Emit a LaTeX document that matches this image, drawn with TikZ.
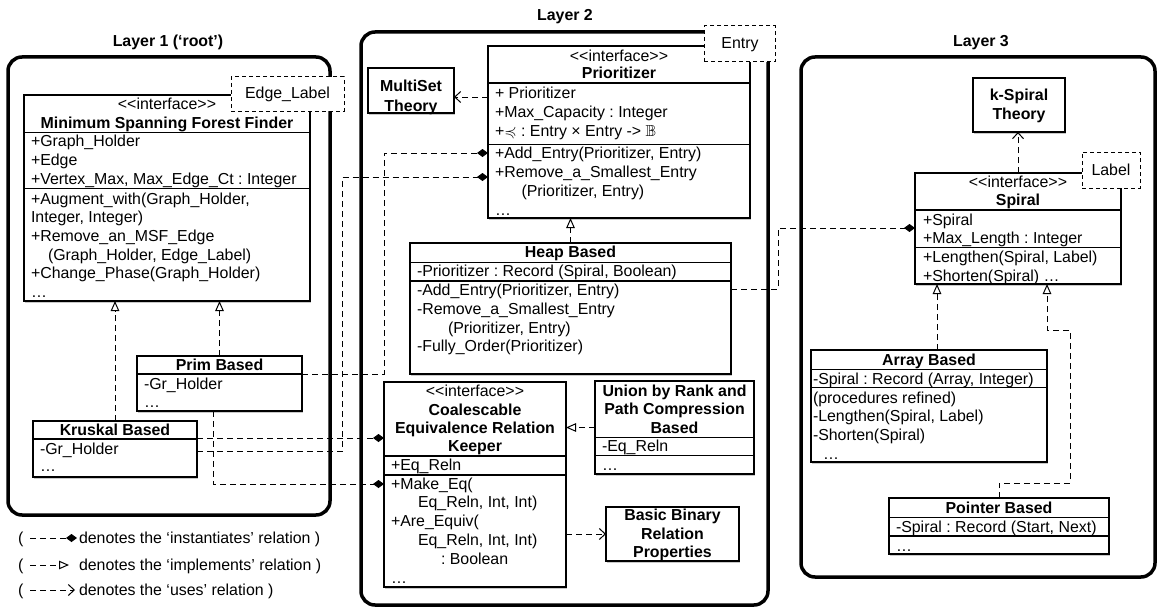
\documentclass[tikz,border=0pt]{standalone}
\usepackage{fontspec}
\usepackage{amssymb}
\usetikzlibrary{arrows.meta,shadows,fit,calc}
\newfontfamily\umlfont{Liberation Sans}
\frenchspacing

% stacked text rows: #1 = row pitch (pt), #2 = rows separated by \\
\newcommand{\rowsl}[2]{{\fontsize{15.9pt}{#1pt}\selectfont\begin{tabular}[t]{@{}l@{}}#2\end{tabular}}}
\newcommand{\rowsc}[2]{{\fontsize{15.9pt}{#1pt}\selectfont\begin{tabular}[t]{@{}c@{}}#2\end{tabular}}}
% compartment separator inside a class box at height #2
\newcommand{\compsep}[2]{\draw[sepline] (#1.west |- 0,#2) -- (#1.east |- 0,#2);}

\tikzset{
  every node/.style={font=\umlfont\fontsize{15.9pt}{19pt}\selectfont, inner sep=0pt, outer sep=0pt},
  layer/.style={draw, line width=3.5pt, rounded corners=14pt},
  classbox/.style={draw, line width=1.1pt, fill=white,
    drop shadow={shadow xshift=1.2pt, shadow yshift=-1.6pt, opacity=0.3, fill=black!70}},
  tagbox/.style={draw, line width=1pt, dash pattern=on 4pt off 3pt, fill=white},
  sepline/.style={line width=1.1pt},
  left rows/.style={anchor=base west},
  mid rows/.style={anchor=base},
  conn/.style={line width=1pt, dash pattern=on 6pt off 4pt},
  inst/.style={conn, -{Diamond[length=11pt,width=8pt]}},
  impl/.style={conn, -{Triangle[open,length=10pt,width=8.5pt,line width=1pt]}},
  uses/.style={conn, -{Straight Barb[length=6pt,width=11pt,line width=1pt]}},
}

\begin{document}
\begin{tikzpicture}[x=1pt,y=-1pt]
\useasboundingbox (0,0) rectangle (1157,610);

% ---------- layers ----------
\node[layer, fit={(8,57) (330,515)}] (layerA) {};
\node[layer, fit={(361,32) (768,605)}] (layerB) {};
\node[layer, fit={(801,57) (1155,577)}] (layerC) {};
\node[anchor=base] (titleA) at (168,47) {\bfseries Layer 1 (‘root’)};
\node[anchor=base] (titleB) at (565,21) {\bfseries Layer 2};
\node[anchor=base] (titleC) at (981,47) {\bfseries Layer 3};

% ---------- layer 1 ----------
\node[classbox, fit={(24,95) (310,301)}] (msf) {};
\compsep{msf}{132.7}
\compsep{msf}{188.3}
\node[mid rows] (msfHead) at (167,110) {\rowsc{18.2}{<<interface>>\\\bfseries Minimum Spanning Forest Finder}};
\node[left rows] (msfAttr) at (31,146.7) {\rowsl{18.8}{+Graph\_Holder\\+Edge\\+Vertex\_Max, Max\_Edge\_Ct : Integer}};
\node[left rows] (msfOps) at (31,204.3) {\rowsl{18.6}{+Augment\_with(Graph\_Holder,\\Integer, Integer)\\+Remove\_an\_MSF\_Edge\\\hspace*{17pt}(Graph\_Holder, Edge\_Label)\\+Change\_Phase(Graph\_Holder)\\…}};
\node[tagbox, fit={(231,77) (344,111)}] (edgeTag) {};
\node[anchor=base] (edgeTagText) at (287.5,98.8) {Edge\_Label};

\node[classbox, fit={(137,356) (302,411)}] (prim) {};
\compsep{prim}{374}
\node[mid rows] (primHead) at (219.5,370) {\bfseries Prim Based};
\node[left rows] (primAttr) at (144,389) {\rowsl{18}{-Gr\_Holder\\…}};

\node[classbox, fit={(33,421) (197,477)}] (kruskal) {};
\compsep{kruskal}{439}
\node[mid rows] (kruskalHead) at (115,435) {\bfseries Kruskal Based};
\node[left rows] (kruskalAttr) at (40,454) {\rowsl{17.7}{-Gr\_Holder\\…}};

% ---------- layer 2 ----------
\node[classbox, fit={(488,46) (750,218)}] (prio) {};
\compsep{prio}{83}
\compsep{prio}{144.3}
\node[mid rows] (prioHead) at (619,61.7) {\rowsc{17.3}{<<interface>>\\\bfseries Prioritizer}};
\node[left rows] (prioAttr) at (495,98.3) {\rowsl{19}{+ Prioritizer\\+Max\_Capacity : Integer\\+$\preccurlyeq$ : Entry × Entry -> $\mathbb{B}$}};
\node[left rows] (prioOps) at (495,158.3) {\rowsl{19.2}{+Add\_Entry(Prioritizer, Entry)\\+Remove\_a\_Smallest\_Entry\\\hspace*{26.5pt}(Prioritizer, Entry)\\…}};
\node[tagbox, fit={(704,26) (775,62)}] (entryTag) {};
\node[anchor=base] (entryTagText) at (740,48.5) {Entry};

\node[classbox, fit={(368,68) (454,113)}] (multiset) {};
\node[mid rows] (multisetText) at (411,91.7) {\bfseries\rowsc{19.3}{MultiSet\\Theory}};

\node[classbox, fit={(410,243) (731,374)}] (heap) {};
\compsep{heap}{262.3}
\compsep{heap}{281}
\node[mid rows] (heapHead) at (570.5,257.7) {\bfseries Heap Based};
\node[left rows] (heapAttr) at (417,276.7) {-Prioritizer : Record (Spiral, Boolean)};
\node[left rows] (heapOps) at (417,295.7) {\rowsl{18.7}{-Add\_Entry(Prioritizer, Entry)\\-Remove\_a\_Smallest\_Entry\\\hspace*{31pt}(Prioritizer, Entry)\\-Fully\_Order(Prioritizer)}};

\node[classbox, fit={(384,382) (566,587)}] (coal) {};
\compsep{coal}{456}
\compsep{coal}{475}
\node[mid rows] (coalHead) at (475,396.7) {\rowsc{18.3}{<<interface>>\\\bfseries Coalescable\\\bfseries Equivalence Relation\\\bfseries Keeper}};
\node[left rows] (coalAttr) at (391,470) {+Eq\_Reln};
\node[left rows] (coalOps) at (391,489) {\rowsl{18.8}{+Make\_Eq(\\\hspace*{27pt}Eq\_Reln, Int, Int)\\+Are\_Equiv(\\\hspace*{27pt}Eq\_Reln, Int, Int)\\\hspace*{50pt}: Boolean\\…}};

\node[classbox, fit={(595,381) (754,474)}] (union) {};
\compsep{union}{437.3}
\compsep{union}{455.7}
\node[mid rows] (unionHead) at (674.5,396) {\bfseries\rowsc{18.7}{Union by Rank and\\Path Compression\\Based}};
\node[left rows] (unionAttr) at (602,451.7) {-Eq\_Reln};
\node[left rows] (unionOps) at (602,470) {…};

\node[classbox, fit={(606,507) (739,561)}] (basic) {};
\node[mid rows] (basicText) at (672.5,520.7) {\bfseries\rowsc{18.5}{Basic Binary\\Relation\\Properties}};

% ---------- layer 3 ----------
\node[classbox, fit={(973,78) (1065,132)}] (kspiral) {};
\node[mid rows] (kspiralText) at (1019,100) {\bfseries\rowsc{19.3}{k-Spiral\\Theory}};

\node[classbox, fit={(915,173) (1121,284)}] (spiral) {};
\compsep{spiral}{210}
\compsep{spiral}{247.3}
\node[mid rows] (spiralHead) at (1018,187.7) {\rowsc{18}{<<interface>>\\\bfseries Spiral}};
\node[left rows] (spiralAttr) at (923,225) {\rowsl{18.3}{+Spiral\\+Max\_Length : Integer}};
\node[left rows] (spiralOps) at (923,262.3) {\rowsl{18.7}{+Lengthen(Spiral, Label)\\+Shorten(Spiral) …}};
\node[tagbox, fit={(1082,152) (1140,188)}] (labelTag) {};
\node[anchor=base] (labelTagText) at (1111,175.5) {Label};

\node[classbox, fit={(811,350) (1047,462)}] (array) {};
\compsep{array}{369.3}
\compsep{array}{387.3}
\node[mid rows] (arrayHead) at (929,365) {\bfseries Array Based};
\node[left rows] (arrayAttr) at (813,384.3) {-Spiral : Record (Array, Integer)};
\node[left rows] (arrayOps) at (813,403.3) {\rowsl{18.6}{(procedures refined)\\-Lengthen(Spiral, Label)\\-Shorten(Spiral)\\\hspace*{10pt}…}};

\node[classbox, fit={(889,498) (1109,554)}] (pointer) {};
\compsep{pointer}{517.7}
\compsep{pointer}{536}
\node[mid rows] (pointerHead) at (999,513.3) {\bfseries Pointer Based};
\node[left rows] (pointerAttr) at (896,532.3) {-Spiral : Record (Start, Next)};
\node[left rows] (pointerOps) at (896,551) {…};

% ---------- instantiates ----------
\coordinate (primE) at ($(prim.north east)+(0,18)$);
\coordinate (prioA) at ($(prio.north west)+(0,107)$);
\draw[inst] (primE) -| ([xshift=-104pt]prioA) -- (prioA);

\coordinate (kruE1) at ($(kruskal.north east)+(0,17)$);
\draw[inst] (kruE1) -- (kruE1 -| coal.west);

\coordinate (kruE2) at ($(kruskal.north east)+(0,30.5)$);
\coordinate (prioB) at ($(prio.north west)+(0,131)$);
\draw[inst] (kruE2) -| ([xshift=-146pt]prioB) -- (prioB);

\coordinate (primS) at ([xshift=-6.5pt]prim.south);
\coordinate (coalB) at ($(coal.north west)+(0,102)$);
\draw[inst] (primS) |- (coalB);

\coordinate (heapE) at ($(heap.north east)+(0,46)$);
\coordinate (spiA) at ($(spiral.north west)+(0,55)$);
\draw[inst] (heapE) -| ([xshift=-137pt]spiA) -- (spiA);

% ---------- implements ----------
\draw[impl] (kruskal.north) -- (kruskal.north |- msf.south);
\draw[impl] (prim.north) -- (prim.north |- msf.south);
\draw[impl] (heap.north) -- (heap.north |- prio.south);
\draw[impl] (union.west) -- (union.west -| coal.east);
\coordinate (arrT) at ([xshift=8pt]array.north);
\draw[impl] (arrT) -- (arrT |- spiral.south);
\coordinate (spiB) at ([xshift=29pt]spiral.south);
\coordinate (ptrBend) at ($(pointer.north)+(71,-15)$);
\coordinate (spiBend) at ($(spiB)+(0,46)$);
\draw[impl] (pointer.north) |- (ptrBend) |- (spiBend) -- (spiB);

% ---------- uses ----------
\coordinate (prioU) at ($(prio.north west)+(0,51)$);
\draw[uses] (prioU) -- (prioU -| multiset.east);
\draw[uses] (spiral.north) -- (spiral.north |- kspiral.south);
\draw[uses] (coal.east |- basic.west) -- (basic.west);

% ---------- legend ----------
\node[anchor=base west] (legP1) at (18,543.3) {(};
\coordinate (lgA1) at (30,538); \coordinate (lgA2) at (77,538);
\draw[inst] (lgA1) -- (lgA2);
\node[anchor=base west] (legT1) at (79,543.3) {denotes the ‘instantiates’ relation )};

\node[anchor=base west] (legP2) at (18,570) {(};
\coordinate (lgB1) at (30,565); \coordinate (lgB2) at (69,565);
\draw[impl] (lgB1) -- (lgB2);
\node[anchor=base west] (legT2) at (79,570) {denotes the ‘implements’ relation )};

\node[anchor=base west] (legP3) at (18,595) {(};
\coordinate (lgC1) at (30,590); \coordinate (lgC2) at (75,590);
\draw[uses] (lgC1) -- (lgC2);
\node[anchor=base west] (legT3) at (79,595) {denotes the ‘uses’ relation )};
\end{tikzpicture}
\end{document}
